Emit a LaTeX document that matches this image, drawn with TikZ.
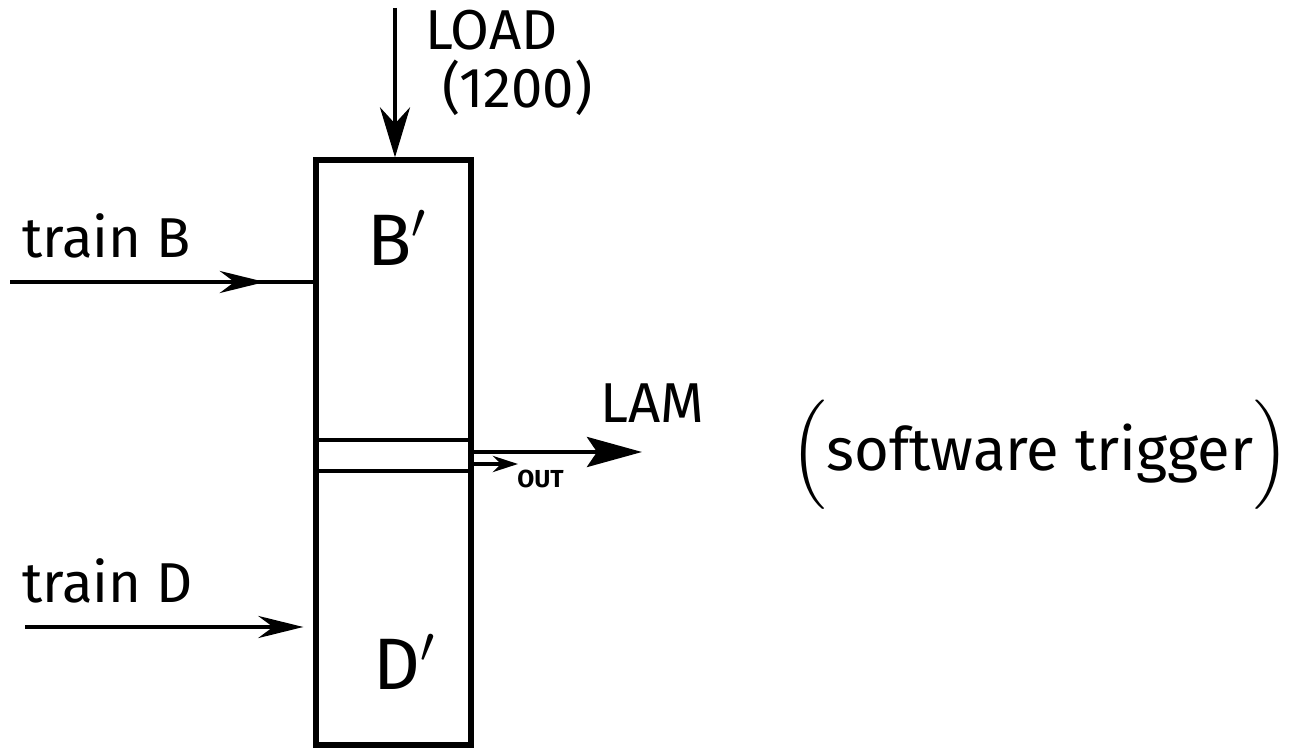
\documentclass[tikz,border=0pt]{standalone}
\usepackage{amsmath}
\usepackage{fontspec}
\setmainfont{Fira Sans}
\usetikzlibrary{arrows.meta,positioning,decorations.markings}
\tikzset{
  wire/.style={line width=1.3pt},
  bigtip/.style={-{Stealth[length=0.5cm,width=0.3cm]}},
  lamtip/.style={-{Stealth[length=0.55cm,width=0.3cm,inset=0.1cm]}},
  intip/.style={-{Stealth[length=0.45cm,width=0.22cm]}},
  smalltip/.style={-{Stealth[length=0.25cm,width=0.16cm]}},
  midtip/.style={postaction={decorate},
    decoration={markings, mark=at position #1 with {\arrow{Stealth[length=0.45cm,width=0.22cm]}}}},
  lbl/.style={font=\fontsize{16}{19}\selectfont, inner sep=0pt},
}
\begin{document}
\begin{tikzpicture}[wire, semithick, line width=1.3pt]
\useasboundingbox (0,0) rectangle (13.01,-7.54);
%
\node (box) [draw, line width=1.5pt, minimum width=1.55cm, minimum height=5.85cm] at (3.935,-4.525) {};
\node (strip) [draw, line width=1.3pt, minimum width=1.55cm, minimum height=0.31cm] at (3.935,-4.555) {};
\node (Bp) [font=\huge] at (3.97,-2.38) {B$'$};
\node (Dp) [font=\huge] at (4.05,-6.62) {D$'$};
%
\coordinate (load) at (3.95,-0.08);
\coordinate (inB) at (0.1,-2.82);
\coordinate (inD) at (0.25,-6.27);
\coordinate (lam) at (6.42,-4.52);
\coordinate (outp) at (5.18,-4.64);
%
\node (loadtxt) [lbl, anchor=south west] at (4.23,-0.52) {LOAD};
\node (cnt) [lbl, below right=0.06cm and 0.17cm of loadtxt.south west] {(1200)};
\node (trainB) [lbl, anchor=south west] at (0.2,-2.6) {train B};
\node (trainD) [lbl, anchor=south west] at (0.2,-6.05) {train D};
\node (lamtxt) [lbl, anchor=south west] at (5.98,-4.25) {LAM};
\node (outtxt) [font=\scriptsize\bfseries, inner sep=0pt, anchor=north west] at (5.15,-4.68) {OUT};
\node (trig) [font=\fontsize{17}{20}\selectfont, inner sep=0pt] at (10.4,-4.55) {$\Big($software trigger$\Big)$};
%
\draw [bigtip] (load) -- (load |- box.north);
\draw [midtip=0.84] (inB) -- (inB -| box.west);
\draw [intip, shorten >=0.1cm] (inD) -- (inD -| box.west);
\draw [lamtip] (box.east |- lam) -- (lam);
\draw [smalltip] (box.east |- outp) -- (outp);
\end{tikzpicture}
\end{document}
